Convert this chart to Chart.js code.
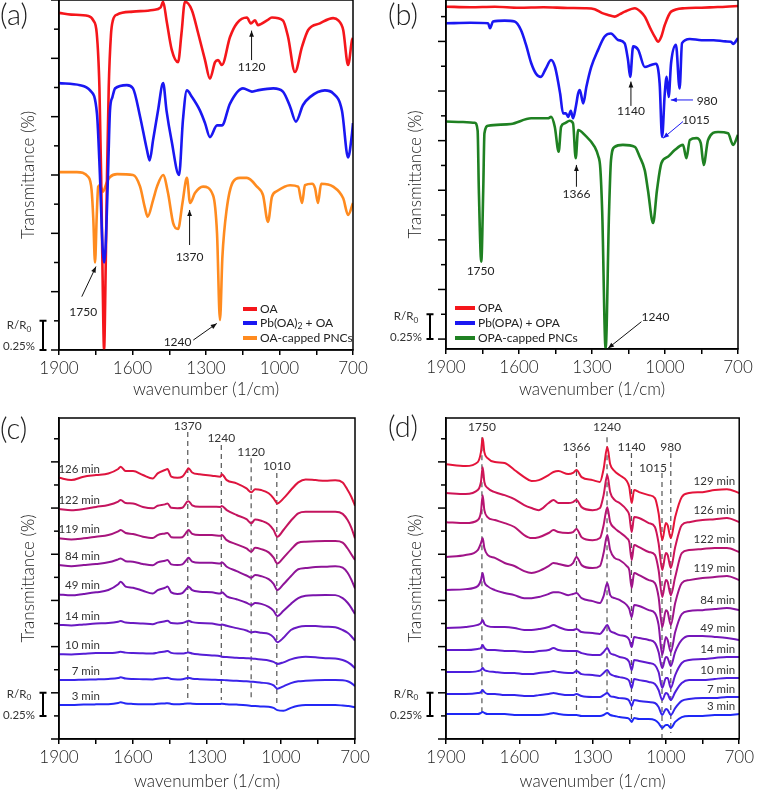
<!DOCTYPE html>
<html>
<head>
<meta charset="utf-8">
<script src="https://cdn.jsdelivr.net/npm/chart.js@4.4.1/dist/chart.umd.min.js"></script>
<style>
  html, body { margin: 0; padding: 0; background: #fff; }
  #wrap { position: relative; width: 757px; height: 791px; }
  #wrap canvas { position: absolute; left: 0; top: 0; }
</style>
</head>
<body>
<div id="wrap">
  <canvas id="chartA" width="757" height="791"></canvas>
  <canvas id="chartB" width="757" height="791"></canvas>
  <canvas id="chartC" width="757" height="791"></canvas>
  <canvas id="chartD" width="757" height="791"></canvas>
</div>
<script>
// ---- panel (a): OA series (wavenumber, transmittance in tick units) ----
const oaWn   = [1900,1850,1780,1760,1746,1735,1728,1722,1716,1710,1704,1697,1688,1680,1663,1598,1516,1485,1475,1461,1440,1414,1400,1386,1358,1332,1304,1284,1263,1251,1235,1202,1174,1133,1117,1100,1088,1051,1031,986,965,937,908,883,835,781,760,740,720,704,700];
const oaVal  = [11.56,11.50,11.45,11.30,10.86,9.0,6.0,2.5,0.0,2.5,6.0,9.0,10.8,11.3,11.5,11.6,11.66,11.75,11.94,11.3,10.3,9.87,10.86,11.94,11.66,10.86,9.94,9.3,9.87,9.94,9.77,10.73,11.2,11.4,11.2,11.3,11.14,11.3,11.4,11.3,10.73,9.53,10.4,10.97,11.2,11.38,11.3,10.97,9.77,10.63,10.7];
const pbOaWn  = [1900,1814,1773,1745,1733,1722,1716,1710,1700,1692,1682,1671,1623,1598,1569,1541,1530,1516,1496,1475,1461,1441,1410,1394,1378,1357,1324,1304,1284,1255,1235,1202,1149,1113,1092,1025,986,957,933,904,876,815,781,745,720,704,700];
const pbOaVal = [9.15,9.08,8.9,8.1,6.0,3.5,3.0,3.5,6.0,8.2,8.67,8.97,9.08,8.97,8.0,6.86,6.5,7.2,8.2,9.15,8.2,7.2,6.0,7.9,8.9,8.67,8.2,7.78,7.3,7.7,7.7,8.45,8.97,8.86,8.9,8.97,8.86,8.35,7.83,8.4,8.67,8.9,8.8,8.2,6.6,7.43,7.78];
const oaPncWn  = [1900,1827,1780,1767,1760,1753,1746,1740,1733,1720,1705,1692,1663,1598,1569,1550,1538,1516,1500,1475,1455,1434,1414,1396,1378,1365,1345,1312,1271,1255,1243,1233,1216,1190,1161,1133,1092,1067,1047,1031,1010,957,924,908,896,867,855,843,830,781,740,720,700];
const oaPncVal = [6.1,6.1,5.93,5.49,4.5,3.0,4.6,5.6,5.65,5.43,5.75,5.93,6.03,6.0,5.6,4.9,4.57,5.14,5.6,6.0,5.38,4.35,4.15,5.04,5.9,5.04,5.38,5.6,5.3,4.0,1.03,3.2,4.8,5.76,5.9,5.9,5.6,5.3,4.39,5.25,5.45,5.65,5.6,5.04,5.65,5.7,5.55,5.04,5.7,5.6,5.2,4.63,5.04];

// ---- panel (b): OPA series ----
const opaWn  = [1900,1800,1700,1600,1500,1400,1330,1289,1260,1234,1207,1185,1165,1124,1100,1083,1057,1040,1029,1015,1001,975,919,850,800,750,700];
const opaVal = [13.8,13.78,13.8,13.76,13.78,13.75,13.74,13.7,13.55,13.47,13.4,13.5,13.6,13.74,13.6,13.4,12.86,12.55,12.39,12.6,13.06,13.6,13.74,13.76,13.78,13.8,13.83];
const pbOpaWn  = [1900,1800,1727,1719,1707,1659,1618,1592,1571,1550,1530,1510,1490,1468,1452,1431,1419,1407,1398,1387,1378,1366,1357,1350,1336,1323,1303,1275,1248,1222,1193,1166,1152,1143,1131,1110,1083,1057,1037,1022,1012,1001,993,985,975,955,940,930,898,850,800,750,729,720,700];
const pbOpaVal = [13.13,13.15,13.13,12.93,13.2,13.24,13.2,12.86,12.26,11.53,11.1,10.97,11.3,11.65,11.37,10.3,9.5,9.5,9.36,9.6,9.3,9.8,10.3,10.44,9.9,10.57,11.37,12.06,12.6,12.72,12.46,12.33,11.65,10.97,12.2,12.06,11.37,11.45,11.5,10.7,8.55,10.3,10.97,10.16,11.53,12.26,10.5,12.33,12.5,12.45,12.45,12.4,12.39,12.3,12.53];
const opaPncWn  = [1900,1830,1782,1770,1765,1755,1747,1742,1727,1633,1550,1481,1468,1453,1437,1427,1412,1392,1378,1367,1357,1330,1289,1275,1266,1258,1244,1230,1222,1207,1173,1124,1104,1083,1070,1049,1033,1015,988,960,926,912,898,871,853,841,823,782,741,720,700];
const opaPncVal = [9.17,9.15,9.12,8.8,6.4,3.52,6.4,8.7,9.0,9.07,9.3,9.3,9.36,8.96,7.95,8.96,9.1,9.2,9.1,7.69,8.83,8.63,8.15,7.8,7.3,5.5,0.0,5.5,7.6,8.15,8.23,8.15,7.75,7.2,6.4,5.08,6.4,7.49,7.75,8.02,8.23,7.69,8.43,8.5,8.3,7.42,8.43,8.75,8.7,8.23,8.63];

// ---- panel (c): OA-capped PNCs over time ----
const wnC = [1900,1850,1800,1750,1700,1660,1650,1630,1600,1560,1520,1500,1470,1460,1445,1420,1400,1380,1375,1360,1330,1280,1245,1240,1220,1180,1140,1120,1105,1080,1050,1030,1015,990,960,930,900,860,820,780,750,730,715,700];
const timesC = ['126 min','122 min','119 min','84 min','49 min','14 min','10 min','7 min','3 min'];
const c126 = [11.31,11.21,11.36,11.43,11.50,11.69,11.79,11.60,11.60,11.43,11.28,11.50,11.65,11.69,11.36,11.31,11.36,11.65,11.72,11.54,11.46,11.40,11.36,11.46,11.21,11.07,10.85,10.68,10.82,10.78,10.64,10.42,10.20,10.42,10.78,11.11,11.24,11.21,11.18,11.20,11.11,10.78,10.49,10.10];
const c122 = [9.96,9.91,9.96,10.05,10.13,10.28,10.35,10.22,10.20,10.05,9.99,10.10,10.16,10.20,10.01,9.99,10.01,10.28,10.30,10.12,10.06,10.06,10.05,10.09,9.91,9.70,9.52,9.34,9.51,9.45,9.30,9.05,8.76,9.05,9.45,9.77,9.84,9.84,9.84,9.84,9.75,9.48,9.15,8.69];
const c119 = [8.69,8.64,8.69,8.76,8.83,8.99,9.05,8.92,8.88,8.76,8.70,8.83,8.90,8.92,8.74,8.72,8.74,9.00,9.05,8.88,8.83,8.83,8.80,8.83,8.61,8.43,8.25,8.11,8.28,8.22,8.08,7.85,7.60,7.85,8.20,8.50,8.54,8.56,8.57,8.57,8.50,8.25,8.00,7.75];
const c84  = [7.53,7.48,7.53,7.58,7.65,7.78,7.82,7.70,7.68,7.58,7.52,7.65,7.72,7.75,7.56,7.53,7.56,7.80,7.85,7.68,7.63,7.63,7.60,7.65,7.46,7.27,7.08,6.98,7.10,7.05,6.92,6.72,6.45,6.70,7.05,7.35,7.40,7.45,7.46,7.48,7.42,7.20,6.90,6.52];
const c49  = [6.26,6.22,6.28,6.35,6.45,6.70,6.81,6.60,6.55,6.42,6.30,6.45,6.55,6.60,6.35,6.28,6.32,6.55,6.59,6.45,6.38,6.35,6.30,6.35,6.18,6.05,5.90,5.80,5.89,5.85,5.72,5.55,5.32,5.55,5.85,6.10,6.20,6.23,6.24,6.23,6.10,5.90,5.68,5.41];
const c14  = [4.94,4.92,4.96,5.00,5.02,5.08,5.11,5.04,5.02,5.00,4.97,5.04,5.10,5.12,5.02,5.00,5.02,5.10,5.12,5.06,5.02,5.00,4.94,4.96,4.90,4.80,4.70,4.62,4.64,4.60,4.55,4.40,4.19,4.38,4.72,4.85,4.89,4.89,4.86,4.84,4.72,4.60,4.45,4.26];
const c10  = [3.67,3.66,3.69,3.72,3.72,3.76,3.78,3.74,3.72,3.71,3.70,3.74,3.79,3.81,3.73,3.70,3.70,3.74,3.75,3.70,3.66,3.62,3.58,3.56,3.55,3.52,3.50,3.49,3.47,3.44,3.40,3.34,3.25,3.32,3.45,3.53,3.56,3.54,3.50,3.49,3.42,3.33,3.22,3.06];
const c7   = [2.55,2.55,2.57,2.58,2.60,2.64,2.67,2.62,2.60,2.59,2.58,2.61,2.64,2.65,2.60,2.58,2.59,2.64,2.65,2.61,2.59,2.57,2.55,2.56,2.54,2.52,2.50,2.48,2.47,2.44,2.40,2.32,2.18,2.28,2.42,2.50,2.52,2.54,2.55,2.55,2.54,2.50,2.42,2.29];
const c3   = [1.47,1.47,1.49,1.50,1.51,1.56,1.59,1.54,1.52,1.51,1.51,1.53,1.54,1.55,1.52,1.51,1.52,1.54,1.54,1.53,1.52,1.52,1.52,1.53,1.51,1.49,1.46,1.43,1.43,1.41,1.40,1.35,1.25,1.22,1.35,1.44,1.47,1.47,1.47,1.47,1.45,1.43,1.41,1.37];

// ---- panel (d): OPA-capped PNCs over time ----
const wnD = [1900,1820,1770,1757,1750,1743,1730,1700,1660,1620,1580,1550,1520,1480,1460,1440,1400,1380,1366,1345,1300,1270,1255,1240,1228,1210,1190,1160,1150,1140,1130,1110,1070,1045,1030,1015,1000,993,980,962,935,905,850,800,750,700];
const timesD = ['129 min','126 min','122 min','119 min','84 min','49 min','14 min','10 min','7 min','3 min'];
const d129 = [11.90,11.82,11.99,12.42,13.03,12.42,12.16,11.99,11.95,11.65,11.34,11.17,11.21,11.43,11.56,11.60,11.47,11.52,11.65,11.34,11.21,11.13,11.69,12.64,11.90,11.60,11.43,11.17,10.91,10.22,10.78,10.69,10.56,10.43,9.78,8.61,9.35,9.26,8.70,9.61,10.48,10.65,10.69,10.78,10.82,10.65];
const d126 = [10.65,10.61,10.78,11.13,11.77,11.13,10.87,10.69,10.56,10.39,10.13,10.00,9.91,10.22,10.35,10.22,10.22,10.26,10.35,10.04,9.91,10.00,10.56,11.43,10.69,10.35,10.22,9.91,9.70,8.96,9.61,9.57,9.35,9.18,8.48,7.32,8.05,7.97,7.40,8.31,9.26,9.39,9.48,9.52,9.57,9.39];
const d122 = [9.39,9.35,9.48,9.83,10.56,9.91,9.61,9.48,9.35,9.18,8.83,8.70,8.74,8.92,9.05,8.96,8.92,8.96,9.09,8.74,8.61,8.70,9.26,10.04,9.39,9.13,8.96,8.70,8.53,7.75,8.40,8.31,8.10,7.97,7.32,6.15,6.88,6.80,6.23,7.01,8.05,8.18,8.23,8.27,8.27,8.10];
const d119 = [7.88,7.97,8.18,8.48,8.70,8.27,7.97,7.84,7.62,7.49,7.27,7.19,7.27,7.49,7.62,7.58,7.49,7.62,7.88,7.53,7.40,7.49,8.05,8.83,8.18,7.84,7.75,7.49,7.32,6.54,7.19,7.10,6.88,6.75,6.15,4.85,5.58,5.50,4.94,5.89,6.75,6.88,6.97,7.01,7.06,6.88];
const d84  = [6.45,6.49,6.62,6.88,7.19,6.80,6.62,6.45,6.32,6.23,6.10,6.10,6.15,6.28,6.36,6.36,6.23,6.28,6.32,6.10,5.97,5.89,6.19,6.75,6.23,6.10,6.02,5.80,5.63,5.28,5.80,5.76,5.58,5.45,4.94,3.64,4.42,4.29,3.77,4.63,5.41,5.54,5.58,5.63,5.67,5.58];
const d49  = [4.81,4.85,4.94,5.02,5.15,4.98,4.89,4.85,4.85,4.81,4.72,4.72,4.76,4.85,4.94,4.85,4.72,4.72,4.76,4.63,4.59,4.55,4.72,4.94,4.68,4.59,4.50,4.42,4.29,3.98,4.42,4.37,4.29,4.16,3.77,3.07,3.55,3.51,3.16,3.77,4.29,4.46,4.46,4.42,4.37,4.29];
const d14  = [3.85,3.85,3.90,3.94,4.07,3.94,3.85,3.85,3.81,3.81,3.77,3.77,3.81,3.85,3.94,3.85,3.81,3.81,3.81,3.72,3.64,3.64,3.77,3.94,3.72,3.64,3.55,3.46,3.33,2.99,3.42,3.38,3.29,3.20,2.90,2.21,2.64,2.64,2.21,2.77,3.29,3.42,3.46,3.51,3.55,3.55];
const d10  = [2.90,2.90,2.94,2.99,3.07,2.99,2.94,2.90,2.86,2.86,2.81,2.81,2.86,2.90,2.94,2.90,2.86,2.86,2.94,2.81,2.77,2.73,2.86,2.99,2.81,2.73,2.68,2.60,2.51,2.21,2.60,2.55,2.47,2.38,2.12,1.69,1.99,1.95,1.69,2.03,2.42,2.55,2.55,2.60,2.64,2.64];
const d7   = [1.95,1.95,1.99,2.03,2.12,2.03,1.95,1.95,1.90,1.90,1.86,1.86,1.90,1.95,1.99,1.95,1.90,1.90,1.95,1.86,1.82,1.82,1.90,1.99,1.86,1.82,1.77,1.73,1.65,1.43,1.69,1.65,1.60,1.56,1.39,1.04,1.30,1.26,1.04,1.34,1.65,1.73,1.77,1.77,1.82,1.82];
const d3   = [1.08,1.08,1.08,1.13,1.17,1.13,1.08,1.08,1.08,1.04,1.04,1.04,1.04,1.08,1.13,1.08,1.04,1.04,1.04,1.00,1.00,1.00,1.04,1.13,1.04,1.00,0.95,0.91,0.87,0.74,0.91,0.87,0.87,0.82,0.69,0.48,0.61,0.61,0.48,0.74,0.95,1.00,1.00,1.04,1.04,1.08];

// colours
const RED = '#f5161b', BLUE = '#1a17f2', ORANGE = '#ff8b1f', GREEN = '#1f8122';
const colorsC = ['rgb(222,20,62)','rgb(196,20,94)','rgb(168,20,124)','rgb(142,20,152)','rgb(122,20,172)','rgb(106,26,194)','rgb(86,30,214)','rgb(58,36,234)','rgb(36,40,245)'];
const colorsD = ['rgb(228,20,58)','rgb(206,20,86)','rgb(184,20,112)','rgb(160,20,136)','rgb(136,20,164)','rgb(116,22,186)','rgb(96,26,206)','rgb(76,30,222)','rgb(50,36,236)','rgb(30,40,246)'];

const FONT = 'Lato, "Open Sans", sans-serif';
const LIGHT = 300;   // axis text and panel letters
const SMALL = 400;   // small annotations
const W = 757, H = 791;
Chart.defaults.font.family = FONT;
Chart.defaults.font.weight = LIGHT;
Chart.defaults.color = '#222';

function series(wn, vals, label, color, width, order) {
  return {
    label: label,
    order: order,
    data: wn.map((w, i) => ({ x: w, y: vals[i] })),
    borderColor: color,
    backgroundColor: color,
    borderWidth: width,
    pointRadius: 0,
    fill: false,
    cubicInterpolationMode: 'monotone'
  };
}

// drawing helpers
function P(chart, wn, v) {
  return [chart.scales.x.getPixelForValue(wn), chart.scales.y.getPixelForValue(v)];
}
function txt(ctx, s, x, y, size, color, align, weight) {
  ctx.font = (weight || SMALL) + ' ' + size + 'px ' + FONT;
  ctx.fillStyle = color || '#222';
  ctx.textAlign = align || 'center';
  ctx.textBaseline = 'middle';
  ctx.fillText(s, x, y);
}
// parts: [text, isSubscript]
function rich(ctx, parts, x, y, size, align, color) {
  const fonts = parts.map(p => SMALL + ' ' + (p[1] ? size * 0.72 : size) + 'px ' + FONT);
  let total = 0;
  const ws = parts.map((p, i) => { ctx.font = fonts[i]; const w = ctx.measureText(p[0]).width; total += w; return w; });
  let cx = align === 'center' ? x - total / 2 : x;
  ctx.textAlign = 'left';
  ctx.textBaseline = 'middle';
  ctx.fillStyle = color || '#222';
  parts.forEach((p, i) => {
    ctx.font = fonts[i];
    ctx.fillText(p[0], cx, y + (p[1] ? size * 0.3 : 0));
    cx += ws[i];
  });
}
function arrow(ctx, x1, y1, x2, y2, color) {
  ctx.strokeStyle = color; ctx.fillStyle = color; ctx.lineWidth = 1;
  ctx.beginPath(); ctx.moveTo(x1, y1); ctx.lineTo(x2, y2); ctx.stroke();
  const a = Math.atan2(y2 - y1, x2 - x1), L = 6, w = 2.4;
  ctx.beginPath();
  ctx.moveTo(x2, y2);
  ctx.lineTo(x2 - L * Math.cos(a) + w * Math.sin(a), y2 - L * Math.sin(a) - w * Math.cos(a));
  ctx.lineTo(x2 - L * Math.cos(a) - w * Math.sin(a), y2 - L * Math.sin(a) + w * Math.cos(a));
  ctx.closePath(); ctx.fill();
}

// frame, y ticks, scale bar, panel letter and per-panel notes
function decor(p) {
  return {
    id: 'decor' + p.letter.replace(/\W/g, ''),
    beforeDatasetsDraw(chart) {
      if (!p.dashes) return;
      const ctx = chart.ctx;
      ctx.save();
      ctx.setLineDash([5, 4]);
      ctx.strokeStyle = '#555';
      ctx.lineWidth = 1.2;
      p.dashes.forEach(d => {
        const [x, y1] = P(chart, d.wn, d.top);
        const y2 = chart.scales.y.getPixelForValue(d.bottom);
        ctx.beginPath(); ctx.moveTo(x, y1); ctx.lineTo(x, y2); ctx.stroke();
      });
      ctx.restore();
    },
    afterDraw(chart) {
      const ctx = chart.ctx, a = chart.chartArea, ys = chart.scales.y;
      ctx.save();
      ctx.strokeStyle = '#000';
      ctx.lineWidth = 1.5;
      ctx.strokeRect(a.left, a.top, a.right - a.left, a.bottom - a.top);
      // y ticks
      for (let k = 0; p.tick0 + k <= ys.max + 1e-6; k++) {
        const y = ys.getPixelForValue(p.tick0 + k);
        const len = k % 2 === 0 ? 8 : 5;
        ctx.beginPath(); ctx.moveTo(a.left - len, y); ctx.lineTo(a.left, y); ctx.stroke();
      }
      // R/R0 scale bar
      const bx = a.left - 16, yb0 = ys.getPixelForValue(p.bar[0]), yb1 = ys.getPixelForValue(p.bar[1]);
      ctx.lineWidth = 2;
      ctx.beginPath();
      ctx.moveTo(bx, yb0); ctx.lineTo(bx, yb1);
      ctx.moveTo(bx - 3.5, yb0); ctx.lineTo(bx + 3.5, yb0);
      ctx.moveTo(bx - 3.5, yb1); ctx.lineTo(bx + 3.5, yb1);
      ctx.stroke();
      const mid = (yb0 + yb1) / 2;
      rich(ctx, [['R/R', false], ['0', true]], a.left - 40, mid - 10, 11.5, 'center', '#333');
      txt(ctx, '0.25%', a.left - 40, mid + 11, 11.5, '#333');
      // panel letter
      txt(ctx, p.letter, p.letterPos[0], p.letterPos[1], 29, '#222', 'left', LIGHT);
      // dashed line labels
      (p.dashes || []).forEach(d => {
        const [x, y] = P(chart, d.wn, d.labelV);
        txt(ctx, d.text, x + (d.dx || 0), y, 12, '#333');
      });
      // arrows and peak labels
      (p.notes || []).forEach(n => {
        const [tx, ty] = P(chart, n.at[0], n.at[1]);
        txt(ctx, n.text, tx, ty, 12, '#222');
        if (n.from) {
          const [x1, y1] = P(chart, n.from[0], n.from[1]);
          const [x2, y2] = P(chart, n.to[0], n.to[1]);
          arrow(ctx, x1, y1, x2, y2, n.color || '#111');
        }
      });
      // legend
      if (p.legend) {
        p.legend.forEach((item, i) => {
          const y = a.bottom + p.legendRows[i];
          ctx.strokeStyle = chart.data.datasets[i].borderColor;
          ctx.lineWidth = 4;
          ctx.beginPath(); ctx.moveTo(p.legendX[0], y); ctx.lineTo(p.legendX[1], y); ctx.stroke();
          rich(ctx, item, p.legendX[1] + 3, y, 12, 'left', '#222');
        });
      }
      // time labels
      if (p.timeLabels) {
        chart.data.datasets.forEach((ds, i) => {
          const pt = ds.data[p.timeLabels.index];
          const y = ys.getPixelForValue(pt.y) - 9;
          txt(ctx, p.timeLabels.text[i], p.timeLabels.x(a), y, 11.5, '#333', 'right');
        });
      }
      ctx.restore();
    }
  };
}

function makeChart(id, p) {
  const yW = p.area.left - p.panelLeft;
  const xH = p.titleY + 8.5 - p.area.bottom;
  return new Chart(document.getElementById(id), {
    type: 'line',
    data: { datasets: p.datasets },
    options: {
      responsive: false,
      animation: false,
      devicePixelRatio: 1,
      events: [],
      layout: {
        autoPadding: false,
        padding: { left: p.panelLeft, top: p.area.top, right: W - p.area.right, bottom: H - p.area.bottom - xH }
      },
      plugins: { legend: { display: false }, tooltip: { enabled: false } },
      scales: {
        x: {
          type: 'linear', reverse: true, min: 700, max: 1900,
          ticks: {
            stepSize: 150, autoSkip: false, maxRotation: 0, padding: 3,
            font: { size: 17, weight: LIGHT }, color: '#222',
            callback: v => (v % 300 === 100 ? String(v) : '')
          },
          grid: { drawOnChartArea: false, drawTicks: true, tickLength: 5, color: '#000', lineWidth: 1.5 },
          border: { display: true, color: '#000', width: 1.5 },
          title: { display: true, text: 'wavenumber (1/cm)', font: { size: 17, lineHeight: 1, weight: LIGHT }, padding: 0, color: '#222' },
          afterFit: s => { s.height = xH; }
        },
        y: {
          type: 'linear', min: 0, max: p.yMax,
          ticks: { display: false },
          grid: { display: false },
          border: { display: true, color: '#000', width: 1.5 },
          title: { display: true, text: 'Transmittance (%)', font: { size: 17, lineHeight: 1.2, weight: LIGHT }, padding: { top: yW - 40.2, bottom: 0 }, color: '#222' },
          afterFit: s => { s.width = yW; }
        }
      }
    },
    plugins: [decor(p)]
  });
}

// (a)
makeChart('chartA', {
  letter: '(a)', letterPos: [0, 16], panelLeft: 0,
  area: { left: 59, top: 0, right: 353, bottom: 350 }, titleY: 390, yMax: 12, tick0: 0, bar: [0, 1],
  datasets: [
    series(oaWn, oaVal, 'OA', RED, 2.6, 1),
    series(pbOaWn, pbOaVal, 'Pb(OA)2 + OA', BLUE, 2.6, 0),
    series(oaPncWn, oaPncVal, 'OA-capped PNCs', ORANGE, 2.6, 2)
  ],
  legend: [[['OA', false]], [['Pb(OA)', false], ['2', true], [' + OA', false]], [['OA-capped PNCs', false]]],
  legendX: [243, 257], legendRows: [-41, -27, -12],
  notes: [
    { text: '1120', at: [1114, 9.71], from: [1114, 9.94], to: [1114, 10.95] },
    { text: '1370', at: [1367, 3.2], from: [1367, 3.6], to: [1367, 4.8] },
    { text: '1750', at: [1801, 1.29], from: [1807, 1.83], to: [1749, 2.86] },
    { text: '1240', at: [1416, 0.28], from: [1352, 0.34], to: [1256, 0.91] }
  ]
});

// (b)
makeChart('chartB', {
  letter: '(b)', letterPos: [388, 16], panelLeft: 378,
  area: { left: 446, top: 0, right: 738, bottom: 349 }, titleY: 390, yMax: 14.07, tick0: 0.4, bar: [0.4, 1.4],
  datasets: [
    series(opaWn, opaVal, 'OPA', RED, 2.6, 1),
    series(pbOpaWn, pbOpaVal, 'Pb(OPA) + OPA', BLUE, 2.6, 0),
    series(opaPncWn, opaPncVal, 'OPA-capped PNCs', GREEN, 2.6, 2)
  ],
  legend: [[['OPA', false]], [['Pb(OPA) + OPA', false]], [['OPA-capped PNCs', false]]],
  legendX: [455, 475], legendRows: [-41, -26, -11],
  notes: [
    { text: '1140', at: [1140, 9.57], from: [1140, 9.80], to: [1140, 10.78] },
    { text: '1366', at: [1364, 6.24], from: [1364, 6.54], to: [1364, 7.42] },
    { text: '1750', at: [1758, 3.12] },
    { text: '1240', at: [1039, 1.30], from: [1097, 1.10], to: [1234, 0.03] },
    { text: '980', at: [827, 10.0], from: [885, 10.04], to: [976, 10.04], color: BLUE },
    { text: '1015', at: [873, 9.23], from: [926, 9.17], to: [1008, 8.5], color: BLUE }
  ]
});

// (c)
const specC = [c126, c122, c119, c84, c49, c14, c10, c7, c3];
makeChart('chartC', {
  letter: '(c)', letterPos: [0, 430], panelLeft: 0,
  area: { left: 59, top: 418, right: 355, bottom: 739 }, titleY: 782, yMax: 13.9, tick0: 0, bar: [1, 2],
  datasets: specC.map((s, i) => series(wnC, s, timesC[i], colorsC[i], 2, i)),
  timeLabels: { text: timesC, index: 0, x: a => a.left + 41 },
  dashes: [
    { wn: 1378, text: '1370', labelV: 13.55, top: 13.29, bottom: 1.69 },
    { wn: 1242, text: '1240', labelV: 13.03, top: 12.73, bottom: 1.69 },
    { wn: 1121, text: '1120', labelV: 12.42, top: 12.16, bottom: 1.69 },
    { wn: 1017, text: '1010', labelV: 11.82, top: 11.52, bottom: 1.47 }
  ]
});

// (d)
const specD = [d129, d126, d122, d119, d84, d49, d14, d10, d7, d3];
makeChart('chartD', {
  letter: '(d)', letterPos: [388, 428], panelLeft: 378,
  area: { left: 446, top: 418, right: 741, bottom: 739 }, titleY: 782, yMax: 13.9, tick0: 0, bar: [1, 2],
  datasets: specD.map((s, i) => series(wnD, s, timesD[i], colorsD[i], 2, i)),
  timeLabels: { text: timesD, index: wnD.indexOf(800), x: a => a.right - 4 },
  dashes: [
    { wn: 1753, text: '1750', labelV: 13.51, top: 13.07, bottom: 1.04 },
    { wn: 1366, text: '1366', labelV: 12.64, top: 12.38, bottom: 1.13 },
    { wn: 1241, text: '1240', labelV: 13.51, top: 13.07, bottom: 1.26 },
    { wn: 1141, text: '1140', labelV: 12.64, top: 12.38, bottom: 0.69 },
    { wn: 1016, text: '1015', labelV: 11.73, top: 11.52, bottom: 0, dx: -9 },
    { wn: 980, text: '980', labelV: 12.64, top: 12.38, bottom: 0.26 }
  ]
});
</script>
</body>
</html>
